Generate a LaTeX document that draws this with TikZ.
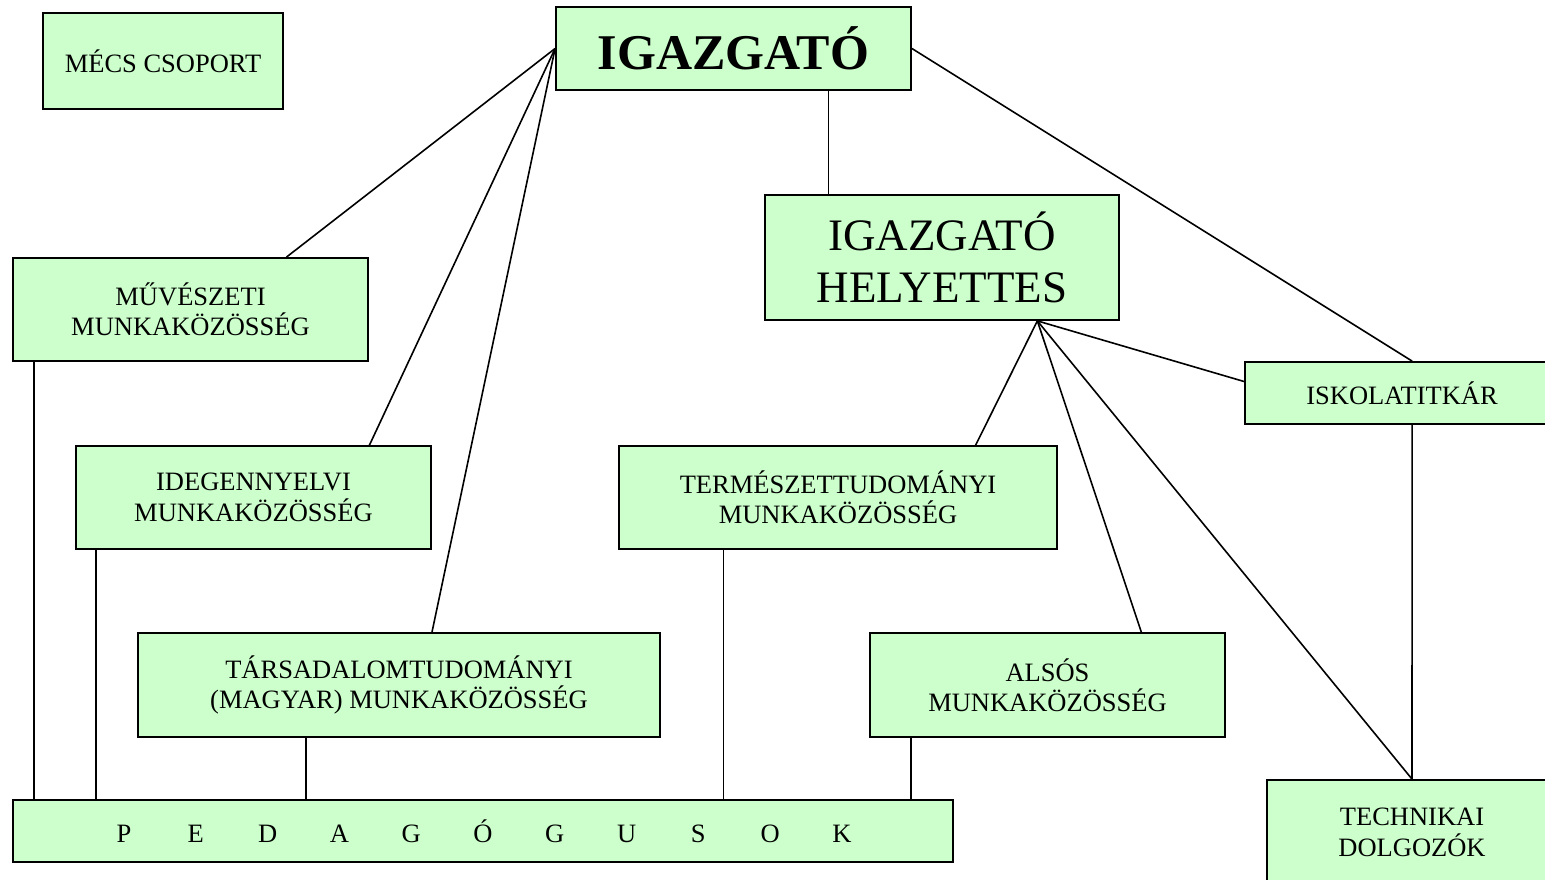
\documentclass[tikz,border=0pt]{standalone}
\usepackage{fontspec}
\setmainfont{Liberation Serif}
\usetikzlibrary{calc}
\definecolor{boxgreen}{HTML}{CCFFCC}
\newcommand{\pl}[1]{\makebox[71.8pt]{#1}}
\begin{document}
\begin{tikzpicture}[x=1pt,y=-1pt,
  box/.style={draw=black, line width=1.8pt, fill=boxgreen, inner sep=0pt, align=center,
    font=\fontsize{26.5}{30.5}\selectfont},
  conn/.style={draw=black, line width=1.6pt}]
\clip (0,0) rectangle (1545,880);
\fill[white] (0,0) rectangle (1545,880);
% nodes
\node[box, minimum width=240, minimum height=96] (mecs) at (163,61) {MÉCS CSOPORT};
\node[box, minimum width=355, minimum height=83, font=\fontsize{50}{57}\selectfont\bfseries] (ig) at (733.5,48.5) {IGAZGATÓ};
\node[box, minimum width=354, minimum height=125, font=\fontsize{45}{52}\selectfont] (hely) at (942,257.5) {IGAZGATÓ\\HELYETTES};
\node[box, minimum width=355, minimum height=103] (muv) at (190.5,309.5) {MŰVÉSZETI\\MUNKAKÖZÖSSÉG};
\node[box, minimum width=355, minimum height=103] (ide) at (253.5,497.5) {IDEGENNYELVI\\MUNKAKÖZÖSSÉG};
\node[box, minimum width=522, minimum height=104] (tar) at (399,685) {TÁRSADALOMTUDOMÁNYI\\(MAGYAR) MUNKAKÖZÖSSÉG};
\node[box, minimum width=438, minimum height=103] (ter) at (838,497.5) {TERMÉSZETTUDOMÁNYI\\MUNKAKÖZÖSSÉG};
\node[box, minimum width=355, minimum height=104] (als) at (1047.5,685) {ALSÓS\\MUNKAKÖZÖSSÉG};
\node[box, minimum width=314, minimum height=62] (isk) at (1402,393) {ISKOLATITKÁR};
\node[box, minimum width=290, minimum height=105] (tech) at (1412,832.5) {TECHNIKAI\\DOLGOZÓK};
\node[box, minimum width=940, minimum height=62] (ped) at (483,831) {\pl{P}\pl{E}\pl{D}\pl{A}\pl{G}\pl{Ó}\pl{G}\pl{U}\pl{S}\pl{O}\pl{K}};
% connector points
\coordinate (muvT) at ($(muv.north west)!0.769!(muv.north east)$);
\coordinate (ideT) at ($(ide.north west)!0.825!(ide.north east)$);
\coordinate (tarT) at ($(tar.north west)!0.563!(tar.north east)$);
\coordinate (igB) at ($(ig.south west)!0.766!(ig.south east)$);
\coordinate (iskT) at ($(isk.north west)!0.532!(isk.north east)$);
\coordinate (iskB) at ($(isk.south west)!0.532!(isk.south east)$);
\coordinate (iskL) at ($(isk.north west)!0.32!(isk.south west)$);
\coordinate (helyB) at ($(hely.south west)!0.768!(hely.south east)$);
\coordinate (terT) at ($(ter.north west)!0.813!(ter.north east)$);
\coordinate (alsT) at ($(als.north west)!0.763!(als.north east)$);
\coordinate (muvB) at ($(muv.south west)!0.062!(muv.south east)$);
\coordinate (ideB) at ($(ide.south west)!0.059!(ide.south east)$);
\coordinate (tarB) at ($(tar.south west)!0.322!(tar.south east)$);
\coordinate (terB) at ($(ter.south west)!0.240!(ter.south east)$);
\coordinate (alsB) at ($(als.south west)!0.118!(als.south east)$);
% connectors
\draw[conn] (ig.west) -- (muvT);
\draw[conn] (ig.west) -- (ideT);
\draw[conn] (ig.west) -- (tarT);
\draw[conn] (igB) -- (igB |- hely.north);
\draw[conn] (ig.east) -- (iskT);
\draw[conn] (helyB) -- (terT);
\draw[conn] (helyB) -- (alsT);
\draw[conn] (helyB) -- (tech.north);
\draw[conn] (helyB) -- (iskL);
\draw[conn] (iskB) -- (tech.north);
\draw[conn] (muvB) -- (muvB |- ped.north);
\draw[conn] (ideB) -- (ideB |- ped.north);
\draw[conn] (tarB) -- (tarB |- ped.north);
\draw[conn] (terB) -- (terB |- ped.north);
\draw[conn] (alsB) -- (alsB |- ped.north);
\end{tikzpicture}
\end{document}
